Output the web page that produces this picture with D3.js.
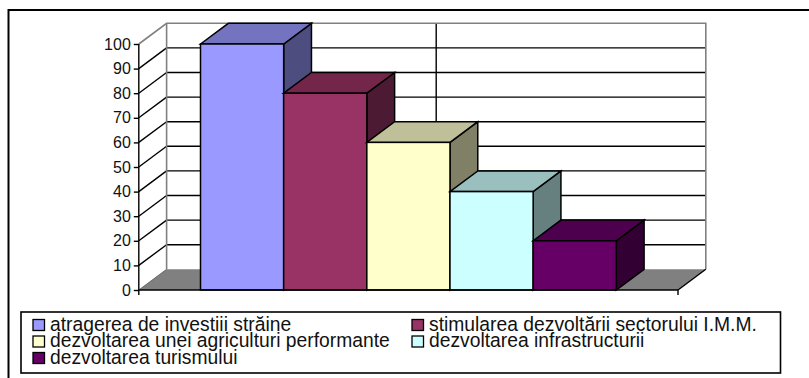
<!DOCTYPE html>
<html>
<head>
<meta charset="utf-8">
<script src="https://cdn.jsdelivr.net/npm/d3@7/dist/d3.min.js"></script>
<style>
  html, body { margin: 0; padding: 0; background: #fff; }
  svg { display: block; }
  text { font-family: "Liberation Sans", Arial, sans-serif; fill: #111; }
</style>
</head>
<body>
<div id="chart"></div>
<script>
const categories = [
  "atragerea de investiii străine",
  "stimularea dezvoltării sectorului I.M.M.",
  "dezvoltarea unei agriculturi performante",
  "dezvoltarea infrastructurii",
  "dezvoltarea turismului"
];
const values = [100, 80, 60, 40, 20];
const faceColors = ["#9999ff", "#993366", "#ffffcc", "#ccffff", "#660066"];
const topColors = ["#7373bf", "#732649", "#bfbf99", "#99bfbf", "#4d004d"];
const sideColors = ["#4d4d80", "#4d1a33", "#808066", "#668080", "#330033"];
const yTicks = [0, 10, 20, 30, 40, 50, 60, 70, 80, 90, 100];

const width = 809, height = 378;
const depthX = 27.8, depthY = -20.7;   // oblique offset of the back wall

const svg = d3.select("#chart").append("svg")
  .attr("width", width).attr("height", height);

// Outer frame: open on the right and at the bottom
svg.append("path")
  .attr("d", "M8.5,378V10H809")
  .attr("fill", "none").attr("stroke", "#000").attr("stroke-width", 2);

const y = d3.scaleLinear().domain([0, 100]).range([290, 44]);
const x = d3.scaleBand().domain(categories).range([138.8, 678])
  .paddingInner(0).paddingOuter(0.742);

const x0 = x.range()[0], x1 = x.range()[1];
const back = p => [p[0] + depthX, p[1] + depthY];
const poly = pts => "M" + pts.map(p => p.join(",")).join("L") + "Z";

const walls = svg.append("g");

// Floor
walls.append("path")
  .attr("d", poly([[x0, y(0)], back([x0, y(0)]), back([x1, y(0)]), [x1, y(0)]]))
  .attr("fill", "#808080");

// Gridlines across the side wall and the back wall
const grid = yTicks.filter(t => t > 0 && t < 100);
walls.selectAll("line.side").data(grid).join("line")
  .attr("class", "side")
  .attr("x1", x0).attr("y1", d => y(d))
  .attr("x2", x0 + depthX).attr("y2", d => y(d) + depthY)
  .attr("stroke", "#000").attr("stroke-width", 1.4);
walls.selectAll("line.back").data(grid).join("line")
  .attr("class", "back")
  .attr("x1", x0 + depthX).attr("y1", d => y(d) + depthY)
  .attr("x2", x1 + depthX).attr("y2", d => y(d) + depthY)
  .attr("stroke", "#000").attr("stroke-width", 1.4);

// Category gridline at the centre of the back wall
walls.append("line")
  .attr("x1", (x0 + x1) / 2 + depthX).attr("x2", (x0 + x1) / 2 + depthX)
  .attr("y1", y(100) + depthY).attr("y2", y(0) + depthY)
  .attr("stroke", "#000").attr("stroke-width", 1.4);

// Grey wall outline
walls.append("path")
  .attr("d", `M${x0},${y(100)}L${x0 + depthX},${y(100) + depthY}H${x1 + depthX}V${y(0) + depthY}`)
  .attr("fill", "none").attr("stroke", "#808080").attr("stroke-width", 1.6);
walls.append("line")
  .attr("x1", x0 + depthX).attr("x2", x0 + depthX)
  .attr("y1", y(100) + depthY).attr("y2", y(0) + depthY)
  .attr("stroke", "#808080").attr("stroke-width", 1.6);

// Front floor edges
walls.append("path")
  .attr("d", `M${x0},${y(0)}L${x0 + depthX},${y(0) + depthY}`)
  .attr("fill", "none").attr("stroke", "#555").attr("stroke-width", 0.8);
walls.append("path")
  .attr("d", `M${x1},${y(0)}L${x1 + depthX},${y(0) + depthY}`)
  .attr("fill", "none").attr("stroke", "#000").attr("stroke-width", 1.4);

// Bars: back-to-front order so each front face overlaps its neighbour's side
const bars = svg.append("g").selectAll("g")
  .data(categories.map((c, i) => ({ c, v: values[i], i })))
  .join("g")
  .attr("stroke", "#000").attr("stroke-width", 1.5).attr("stroke-linejoin", "miter");

bars.append("path").attr("fill", d => sideColors[d.i])
  .attr("d", d => {
    const r = x(d.c) + x.bandwidth(), t = y(d.v), b = y(0);
    return poly([[r, t], back([r, t]), back([r, b]), [r, b]]);
  });
bars.append("path").attr("fill", d => topColors[d.i])
  .attr("d", d => {
    const l = x(d.c), r = l + x.bandwidth(), t = y(d.v);
    return poly([[l, t], back([l, t]), back([r, t]), [r, t]]);
  });
bars.append("rect").attr("fill", d => faceColors[d.i])
  .attr("x", d => x(d.c)).attr("width", x.bandwidth())
  .attr("y", d => y(d.v)).attr("height", d => y(0) - y(d.v));

// Value axis
const axis = svg.append("g").attr("transform", `translate(${x0},0)`)
  .call(d3.axisLeft(y).tickValues(yTicks).tickSize(5).tickPadding(3).tickFormat(d3.format("d")));
axis.selectAll("path.domain").attr("stroke", "#000").attr("stroke-width", 1.4)
  .attr("d", `M0,${y(100)}V${y(0) + 5}`);
axis.selectAll("line").attr("stroke", "#000").attr("stroke-width", 1.4);
axis.selectAll("text").style("font-size", "16px")
  .style("font-family", "'Liberation Sans', Arial, sans-serif").attr("fill", "#111");

// Category axis baseline with its end tick
svg.append("path")
  .attr("d", `M${x0},${y(0)}H${x1}V${y(0) + 5}`)
  .attr("fill", "none").attr("stroke", "#000").attr("stroke-width", 1.4);

// Legend
const legend = svg.append("g");
legend.append("rect")
  .attr("x", 21).attr("y", 312).attr("width", 759.5).attr("height", 61)
  .attr("fill", "#fff").attr("stroke", "#000").attr("stroke-width", 1.6);

const legendCols = [33, 412];
const legendRows = [330.5, 347, 363.5];
const items = legend.selectAll("g.item")
  .data(categories.map((c, i) => ({ c, i, col: i % 2, row: Math.floor(i / 2) })))
  .join("g").attr("class", "item");
items.append("rect")
  .attr("x", d => legendCols[d.col]).attr("y", d => legendRows[d.row] - 11)
  .attr("width", 11.5).attr("height", 11)
  .attr("fill", d => faceColors[d.i]).attr("stroke", "#000").attr("stroke-width", 1.3);
items.append("text")
  .attr("x", d => legendCols[d.col] + 17).attr("y", d => legendRows[d.row])
  .style("font-size", "19.3px")
  .text(d => d.c);
</script>
</body>
</html>
